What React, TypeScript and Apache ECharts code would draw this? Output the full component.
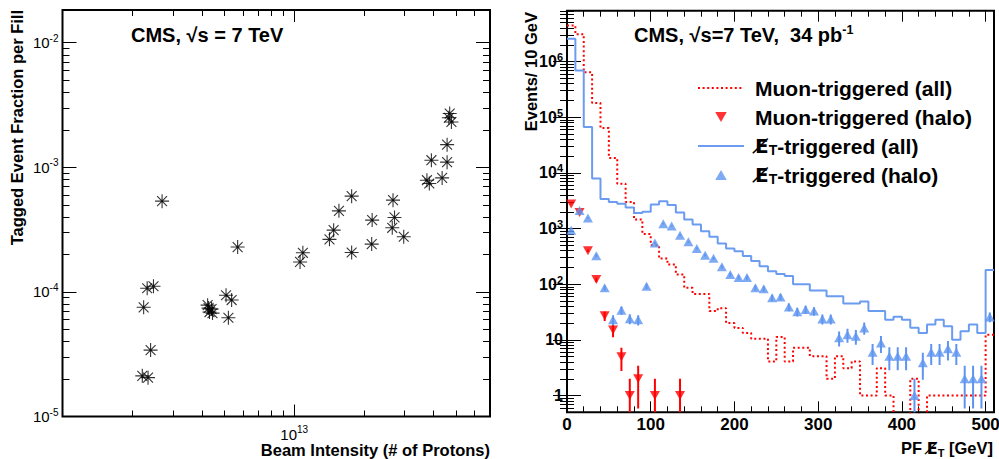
import React, { useEffect, useRef } from 'react';
import * as echarts from 'echarts';

// ---------------- Left panel: tagged event fraction vs beam intensity ----------------
const beamIntensity = [
  2.69e12, 5.7e12, 2.32e12, 2.47e12, 2.24e12, 2.4e12, 2.21e12, 2.34e12,
  4.23e12, 4.4e12, 4.31e12, 4.44e12, 4.27e12, 5.08e12, 5.37e12, 5.2e12,
  1.06e13, 1.09e13, 1.42e13, 1.48e13, 1.56e13, 1.77e13, 1.77e13, 2.17e13,
  2.16e13, 2.67e13, 2.71e13, 2.65e13, 2.97e13, 3.74e13, 3.83e13, 3.91e13,
  4.35e13, 4.57e13, 4.57e13, 4.69e13, 4.65e13, 4.77e13,
];
const taggedFraction = [
  5.35e-4, 2.29e-4, 1.07e-4, 1.11e-4, 7.52e-5, 3.41e-5, 2.12e-5, 2.05e-5,
  7.83e-5, 7.28e-5, 6.89e-5, 6.76e-5, 7.41e-5, 9.4e-5, 8.6e-5, 6.2e-5,
  1.74e-4, 2.06e-4, 2.64e-4, 3.13e-4, 4.47e-4, 5.87e-4, 2.07e-4, 3.77e-4,
  2.42e-4, 5.45e-4, 3.96e-4, 3.27e-4, 2.77e-4, 7.88e-4, 7.41e-4, 1.14e-3,
  8.22e-4, 1.52e-3, 1.1e-3, 2.7e-3, 2.5e-3, 2.31e-3,
];
const leftXRange = [1e12, 7e13];
const leftYRange = [1e-5, 0.0183];
const leftXLabelTicks = [1e13];
const leftXDecades = [1e12, 1e13];
const leftYLabelTicks = [1e-5, 1e-4, 1e-3, 1e-2];
const leftYDecades = [1e-5, 1e-4, 1e-3, 1e-2];

// ---------------- Right panel: PF MET distributions ----------------
const binEdges = [
  0, 10, 20, 30, 40, 50, 60, 70, 80, 90, 100, 110, 120, 130, 140, 150, 160, 170, 180, 190,
  200, 210, 220, 230, 240, 250, 260, 270, 280, 290, 300, 310, 320, 330, 340, 350, 360, 370,
  380, 390, 400, 410, 420, 430, 440, 450, 460, 470, 480, 490, 500, 510,
];
const muonAll = [
  4.45e6, 3.1e6, 6.4e5, 1.8e5, 6.4e4, 1.85e4, 6.4e3, 3.0e3, 1.45e3, 800,
  500, 290, 225, 149, 86, 67, 67, 33, 37, 20,
  16.4, 13.3, 10.5, 10.5, 4.1, 11.3, 4.1, 7.2, 7.2, 5.1,
  5.1, 2.0, 5.1, 3.1, 4.1, 1, 1, 3.1, 1, 0,
  0, 2, 0, 1, 1, 1, 1, 1, 1, 1,
  12.4,
];
const metAll = [
  2.57e6, 6.9e5, 6.67e4, 7.9e3, 3.4e3, 3.0e3, 2.8e3, 2.4e3, 1.9e3, 2.0e3,
  2.7e3, 3.1e3, 2.65e3, 1.95e3, 1.45e3, 1.18e3, 890, 710, 540, 440,
  390, 320, 260, 210, 171, 153, 140, 100, 100, 77,
  77, 61, 61, 45, 45, 49, 33, 33, 23, 26,
  23, 16.5, 13.3, 18.8, 23, 17.6, 10.1, 14.3, 18.8, 13.3,
  180,
];
const muonHaloCenters = [5, 15, 25, 35, 45, 55, 65, 75, 85, 105, 135];
const muonHalo = [2770, 1950, 400, 121, 27, 15, 5, 1, 2, 1, 1];
const metHaloCenters = [
  5, 15, 25, 35, 45, 55, 65, 75, 85, 95, 105, 115, 125, 135, 145, 155, 165, 175, 185, 195,
  205, 215, 225, 235, 245, 255, 265, 275, 285, 295, 305, 315, 325, 335, 345, 355, 365, 375,
  385, 395, 405, 415, 425, 435, 445, 455, 465, 475, 485, 495, 505,
];
const metHalo = [
  929, 2120, 1550, 326, 86, 23, 34, 24, 23, 92,
  551, 1220, 1110, 760, 580, 440, 333, 292, 205, 149,
  132, 132, 86, 83, 57, 59, 39, 32, 35, 33,
  23.8, 23.8, 10.9, 12.4, 11.6, 16.4, 6.0, 8.8, 5.1, 5.1,
  5.1, 1, 3.9, 6.0, 6.0, 6.9, 6.0, 2, 2, 2,
  25.9,
];
const rightXRange = [0, 510];
const rightYRange = [0.5, 8.2e6];
const rightXLabelTicks = [0, 100, 200, 300, 400, 500];
const rightXMinorTicks = [20, 40, 60, 80, 120, 140, 160, 180, 220, 240, 260, 280, 320, 340, 360, 380, 420, 440, 460, 480];
const rightYLabelTicks = [1, 10, 100, 1e3, 1e4, 1e5, 1e6];
const rightYDecades = [0.1, 1, 10, 100, 1e3, 1e4, 1e5, 1e6];

const seriesNames = ['Muon-triggered (all)', 'Muon-triggered (halo)', 'E\u0338T-triggered (all)', 'E\u0338T-triggered (halo)'];

const FONT = 'Liberation Sans, Arial, Helvetica, sans-serif';
const SLASH_FONT = 'DejaVu Sans, Liberation Sans, sans-serif';
const RED = '#ff0000';
const BLUE_LINE = '#6b9cf0';
const BLUE_MARK = '#5e95f0';
const TRI_UP = 'path://M0,-8.66L10,8.66L-10,8.66Z';
const TRI_DOWN = 'path://M0,8.66L10,-8.66L-10,-8.66Z';

const logMinorMultipliers = [2, 3, 4, 5, 6, 7, 8, 9];
const minorLogTicks = (decades: number[], lo: number, hi: number) =>
  decades
    .flatMap((d) => logMinorMultipliers.map((m) => +(m * d).toPrecision(4)))
    .filter((v) => v > lo * 1.0001 && v < hi * 0.9999);

const positive = (v: number) => (v > 0 ? v : 1e-3);

function tickAxis(
  gridIndex: number,
  type: 'log' | 'value',
  position: string,
  range: number[],
  ticks: number[],
  length: number,
  label?: any,
) {
  return {
    type,
    gridIndex,
    position,
    min: range[0],
    max: range[1],
    logBase: 10,
    axisLine: { show: false },
    splitLine: { show: false },
    minorTick: { show: false },
    axisTick: { show: true, inside: true, length, customValues: ticks, lineStyle: { color: '#000', width: 1 } },
    axisLabel: label ? { show: true, customValues: ticks, ...label } : { show: false },
    axisPointer: { show: false },
  };
}

const powerLabel = (v: number) => {
  const e = Math.round(Math.log10(v));
  return `10{sup|${e}}`;
};
const powerLabelRight = (v: number) => {
  const e = Math.round(Math.log10(v));
  if (e === 0) return '1';
  if (e === 1) return '10';
  return `10{sup|${e}}`;
};

const errorBarSeries = (name: string, centers: number[], vals: number[], color: string) => ({
  type: 'custom',
  name,
  xAxisIndex: 4,
  yAxisIndex: 4,
  clip: true,
  z: 3,
  silent: true,
  data: centers.map((c, i) => [c, vals[i]]),
  renderItem: (_params: any, api: any) => {
    const x = api.value(0);
    const n = api.value(1);
    const err = Math.sqrt(n);
    const hi = api.coord([x, n + err]);
    const lo = api.coord([x, Math.max(n - err, 1e-3)]);
    return {
      type: 'line',
      shape: { x1: hi[0], y1: hi[1], x2: lo[0], y2: Math.min(lo[1], 2000) },
      style: { stroke: color, lineWidth: 2 },
    };
  },
});

function buildOption(): any {
  const L = 0;
  const R = 1;
  const leftXMinor = minorLogTicks(leftXDecades, leftXRange[0], leftXRange[1]);
  const leftYMinor = minorLogTicks(leftYDecades, leftYRange[0], leftYRange[1]);
  const rightYMinor = minorLogTicks(rightYDecades, rightYRange[0], rightYRange[1]);

  const leftLabelStyle = {
    fontFamily: FONT,
    fontSize: 15,
    color: '#000',
    lineHeight: 19,
    rich: { sup: { fontFamily: FONT, fontSize: 10, color: '#000', lineHeight: 10, verticalAlign: 'top' } },
  };
  const rightLabelStyle = {
    fontFamily: FONT,
    fontSize: 16,
    fontWeight: 'bold',
    color: '#000',
    lineHeight: 20,
    rich: { sup: { fontFamily: FONT, fontSize: 11, fontWeight: 'bold', color: '#000', lineHeight: 11, verticalAlign: 'top' } },
  };

  const xAxis = [
    tickAxis(L, 'log', 'bottom', leftXRange, leftXLabelTicks, 12, {
      margin: 8,
      formatter: (v: number) => powerLabel(v),
      ...leftLabelStyle,
    }),
    tickAxis(L, 'log', 'bottom', leftXRange, leftXMinor, 6),
    tickAxis(L, 'log', 'top', leftXRange, leftXLabelTicks, 12),
    tickAxis(L, 'log', 'top', leftXRange, leftXMinor, 6),
    tickAxis(R, 'value', 'bottom', rightXRange, rightXLabelTicks, 11, {
      margin: 4,
      fontFamily: FONT,
      fontSize: 17,
      fontWeight: 'bold',
      color: '#000',
      formatter: (v: number) => String(v),
    }),
    tickAxis(R, 'value', 'bottom', rightXRange, rightXMinorTicks, 6),
    tickAxis(R, 'value', 'top', rightXRange, rightXLabelTicks, 11),
    tickAxis(R, 'value', 'top', rightXRange, rightXMinorTicks, 6),
  ];
  const yAxis = [
    tickAxis(L, 'log', 'left', leftYRange, leftYLabelTicks, 14, {
      margin: 4,
      formatter: (v: number) => powerLabel(v),
      ...leftLabelStyle,
    }),
    tickAxis(L, 'log', 'left', leftYRange, leftYMinor, 7),
    tickAxis(L, 'log', 'right', leftYRange, leftYLabelTicks, 14),
    tickAxis(L, 'log', 'right', leftYRange, leftYMinor, 7),
    tickAxis(R, 'log', 'left', rightYRange, rightYLabelTicks, 14, {
      margin: 4,
      formatter: (v: number) => powerLabelRight(v),
      ...rightLabelStyle,
    }),
    tickAxis(R, 'log', 'left', rightYRange, rightYMinor, 7),
    tickAxis(R, 'log', 'right', rightYRange, rightYLabelTicks, 14),
    tickAxis(R, 'log', 'right', rightYRange, rightYMinor, 7),
  ];

  const stepData = (vals: number[]) =>
    binEdges.map((e, i) => [e, positive(vals[Math.min(i, vals.length - 1)])]);

  const asterisk =
    'path://M0,-10L0,10M-10,0L10,0M-7.07,-7.07L7.07,7.07M-7.07,7.07L7.07,-7.07M-1.3,-1.3L1.3,-1.3L1.3,1.3L-1.3,1.3Z';

  const legendRich = {
    e: { fontFamily: SLASH_FONT, fontSize: 20, fontWeight: 'bold', color: '#000', lineHeight: 22 },
    sub: { fontFamily: FONT, fontSize: 14, fontWeight: 'bold', color: '#000', lineHeight: 13, verticalAlign: 'bottom' },
  };
  const axisTitleRich = {
    b: { fontFamily: FONT, fontSize: 16.5, fontWeight: 'bold', fill: '#000', lineHeight: 20 },
    e: { fontFamily: SLASH_FONT, fontSize: 16, fontWeight: 'bold', fill: '#000', lineHeight: 20 },
    sub: { fontFamily: FONT, fontSize: 11, fontWeight: 'bold', fill: '#000', lineHeight: 11, verticalAlign: 'bottom' },
  };
  const titleRich = {
    b: { fontFamily: FONT, fontSize: 20, fontWeight: 'bold', fill: '#000', lineHeight: 24 },
    sup: { fontFamily: FONT, fontSize: 12.5, fontWeight: 'bold', fill: '#000', lineHeight: 12, verticalAlign: 'top' },
  };
  const hiddenSymbol = { color: 'rgba(0,0,0,0)', borderColor: 'rgba(0,0,0,0)', borderWidth: 0, opacity: 0 };

  return {
    animation: false,
    backgroundColor: '#ffffff',
    textStyle: { fontFamily: FONT },
    grid: [
      { left: 62.5, top: 10, width: 427.5, height: 406.5, show: true, borderColor: '#000', borderWidth: 2, backgroundColor: 'transparent', containLabel: false, outerBoundsMode: 'none' },
      { left: 567, top: 10.7, width: 427, height: 401.6, show: true, borderColor: '#000', borderWidth: 2, backgroundColor: 'transparent', containLabel: false, outerBoundsMode: 'none' },
    ],
    xAxis,
    yAxis,
    legend: {
      show: true,
      orient: 'vertical',
      left: 697,
      top: 77,
      padding: 0,
      itemGap: 7,
      itemWidth: 46,
      itemHeight: 10,
      selectedMode: false,
      symbolKeepAspect: true,
      data: [
        { name: seriesNames[0], itemStyle: hiddenSymbol },
        { name: seriesNames[1] },
        { name: seriesNames[2], itemStyle: hiddenSymbol },
        { name: seriesNames[3] },
      ],
      formatter: (name: string) =>
        name.startsWith('E\u0338T') ? `{e|E\u0338}{sub|T}${name.slice(3)}` : name,
      textStyle: {
        fontFamily: FONT,
        fontSize: 21,
        fontWeight: 'bold',
        color: '#000',
        lineHeight: 22,
        padding: [0, 0, 0, 6],
        rich: legendRich,
      },
    },
    series: [
      {
        type: 'scatter',
        name: 'fills',
        xAxisIndex: 0,
        yAxisIndex: 0,
        symbol: asterisk,
        symbolSize: 14,
        itemStyle: { color: '#000', borderColor: '#000', borderWidth: 1.1 },
        data: beamIntensity.map((x, i) => [x, taggedFraction[i]]),
        z: 3,
      },
      {
        type: 'line',
        name: seriesNames[0],
        xAxisIndex: 4,
        yAxisIndex: 4,
        step: 'end',
        showSymbol: false,
        symbol: 'none',
        clip: true,
        lineStyle: { color: RED, width: 2, type: [2, 2.6] },
        itemStyle: { color: RED },
        data: stepData(muonAll),
        z: 2,
      },
      {
        type: 'line',
        name: seriesNames[2],
        xAxisIndex: 4,
        yAxisIndex: 4,
        step: 'end',
        showSymbol: false,
        symbol: 'none',
        clip: true,
        lineStyle: { color: BLUE_LINE, width: 2 },
        itemStyle: { color: BLUE_LINE },
        data: stepData(metAll),
        z: 2,
      },
      errorBarSeries('muonHaloErr', muonHaloCenters, muonHalo, RED),
      errorBarSeries('metHaloErr', metHaloCenters, metHalo, BLUE_MARK),
      {
        type: 'scatter',
        name: seriesNames[1],
        xAxisIndex: 4,
        yAxisIndex: 4,
        symbol: TRI_DOWN,
        symbolSize: [10, 9],
        clip: true,
        itemStyle: { color: RED },
        data: muonHaloCenters.map((c, i) => [c, muonHalo[i]]),
        z: 4,
      },
      {
        type: 'scatter',
        name: seriesNames[3],
        xAxisIndex: 4,
        yAxisIndex: 4,
        symbol: TRI_UP,
        symbolSize: [10, 9],
        clip: true,
        itemStyle: { color: BLUE_MARK },
        data: metHaloCenters.map((c, i) => [c, metHalo[i]]),
        z: 4,
      },
    ],
    graphic: [
      {
        type: 'text',
        x: 131,
        y: 35,
        style: { text: '{b|CMS, \u221As = 7 TeV}', rich: titleRich, align: 'left', verticalAlign: 'middle' },
      },
      {
        type: 'text',
        x: 634,
        y: 35,
        style: { text: '{b|CMS, \u221As=7 TeV,  34 pb}{sup|-1}', rich: titleRich, align: 'left', verticalAlign: 'middle' },
      },
      {
        type: 'text',
        x: 17,
        y: 10,
        rotation: Math.PI / 2,
        style: { text: '{b|Tagged Event Fraction per Fill}', rich: axisTitleRich, align: 'right', verticalAlign: 'middle' },
      },
      {
        type: 'text',
        x: 490,
        y: 450,
        style: { text: '{b|Beam Intensity (# of Protons)}', rich: axisTitleRich, align: 'right', verticalAlign: 'middle' },
      },
      {
        type: 'text',
        x: 531,
        y: 12,
        rotation: Math.PI / 2,
        style: { text: '{b|Events/ 10 GeV}', rich: axisTitleRich, align: 'right', verticalAlign: 'middle' },
      },
      {
        type: 'text',
        x: 993,
        y: 448,
        style: { text: '{b|PF }{e|E\u0338}{sub|T}{b| [GeV]}', rich: axisTitleRich, align: 'right', verticalAlign: 'middle' },
      },
    ],
  };
}

export default function App() {
  const ref = useRef<HTMLDivElement>(null);
  useEffect(() => {
    if (!ref.current) return;
    const chart = echarts.init(ref.current, null, { renderer: 'svg' });
    chart.setOption(buildOption());
    return () => chart.dispose();
  }, []);
  return (
    <div
      ref={ref}
      style={{ position: 'fixed', left: 0, top: 0, width: 999, height: 459, background: '#fff' }}
    />
  );
}
